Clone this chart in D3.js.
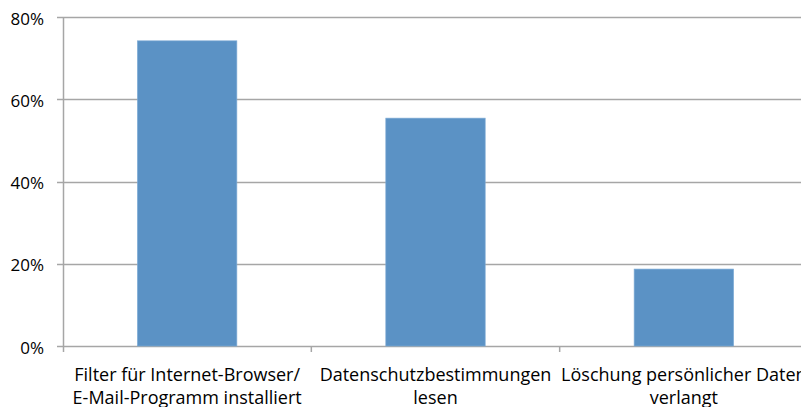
<!DOCTYPE html>
<html><head><meta charset="utf-8">
<script src="https://cdn.jsdelivr.net/npm/d3@7"></script>
<style>body{margin:0;background:#fff;overflow:hidden}svg{display:block}</style>
</head><body><svg id="c" width="801" height="407"></svg>
<script>
const categories = [["Filter für Internet-Browser/","E-Mail-Programm installiert"],["Datenschutzbestimmungen","lesen"],["Löschung persönlicher Daten","verlangt"]];
const values = [0.742, 0.554, 0.187];
const yTicks = [0, 0.2, 0.4, 0.6, 0.8];

(function() {
const svg = d3.select("#c");
const mLeft = 63, mRight = 808, mTop = 17, mBottom = 346;
const font = "'Open Sans', sans-serif";
const x = d3.scaleBand().domain(d3.range(categories.length)).range([mLeft, mRight]).paddingInner(0.6).paddingOuter(0.3);
const xb = d3.scaleBand().domain(d3.range(categories.length)).range([mLeft, mRight]);
const y = d3.scaleLinear().domain([0, 0.8]).range([mBottom, mTop]);

svg.append("g").selectAll("line").data(yTicks).join("line")
  .attr("x1", mLeft - 6).attr("x2", mRight).attr("y1", d => Math.round(y(d)) + 0.5).attr("y2", d => Math.round(y(d)) + 0.5)
  .attr("stroke", "#a6a6a6").attr("stroke-width", 1.5);

svg.append("g").selectAll("rect").data(values).join("rect")
  .attr("x", (d, i) => x(i)).attr("width", x.bandwidth())
  .attr("y", d => y(d)).attr("height", d => mBottom - y(d))
  .attr("fill", "#5b92c5").attr("stroke", "#7aa8d4").attr("stroke-width", 0.7);

svg.append("line").attr("x1", mLeft + 0.5).attr("x2", mLeft + 0.5).attr("y1", mTop).attr("y2", mBottom + 6)
  .attr("stroke", "#a6a6a6").attr("stroke-width", 1.5);
svg.append("g").selectAll("line").data(d3.range(1, categories.length + 1)).join("line")
  .attr("x1", i => i < categories.length ? xb(i) : mRight).attr("x2", i => i < categories.length ? xb(i) : mRight)
  .attr("y1", mBottom).attr("y2", mBottom + 6).attr("stroke", "#a6a6a6").attr("stroke-width", 1.5);

svg.append("g").selectAll("text").data(yTicks).join("text")
  .attr("x", 44).attr("y", d => y(d) + 1.5).attr("dy", "0.36em").attr("text-anchor", "end")
  .attr("font-family", font).attr("font-size", 17).attr("fill", "#000")
  .text(d => d3.format(".0%")(d));

const lab = svg.append("g").selectAll("text").data(categories).join("text")
  .attr("x", (d, i) => xb(i) + xb.bandwidth() / 2).attr("y", 381).attr("text-anchor", "middle")
  .attr("font-family", font).attr("font-size", 18).attr("fill", "#000");
lab.selectAll("tspan").data(d => d).join("tspan")
  .attr("x", function() { return this.parentNode.getAttribute("x"); })
  .attr("dy", (d, i) => i ? 23 : 0).text(d => d);
})();
</script></body></html>
